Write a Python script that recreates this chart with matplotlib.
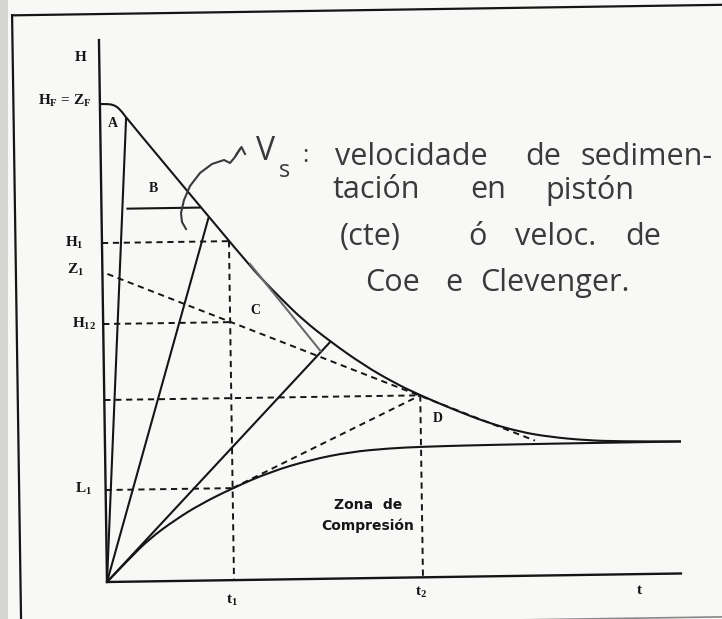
import matplotlib.pyplot as plt
import matplotlib.transforms as mtransforms
from matplotlib.path import Path
from matplotlib.patches import PathPatch

plt.rcParams['mathtext.fontset'] = 'custom'
plt.rcParams['mathtext.rm'] = 'Liberation Serif:bold'
plt.rcParams['mathtext.it'] = 'Liberation Serif:italic:bold'
plt.rcParams['mathtext.bf'] = 'Liberation Serif:bold'

# ---- batch settling test: interface height H against time t ----
# upper curve: clear liquid / suspension interface (A-B linear, C-D compression)
upper_t = [0.00, 0.08, 0.13, 0.17, 0.20, 0.23, 0.26, 1.45, 1.60, 1.80, 2.00,
           2.27, 2.60, 2.90, 3.16, 3.50, 3.82, 4.15, 4.45, 4.82, 5.15, 5.76]
upper_h = [4.78, 4.78, 4.77, 4.75, 4.72, 4.685, 4.64, 3.17, 3.00, 2.79, 2.59,
           2.37, 2.13, 1.95, 1.82, 1.67, 1.54, 1.44, 1.385, 1.345, 1.33, 1.32]
# lower curve: rising sediment level
lower_t = [0.00, 0.233, 0.436, 0.689, 0.941, 1.27, 1.646, 2.048, 2.449,
           2.85, 3.16, 3.60, 4.20, 4.80, 5.76]
lower_h = [0.00, 0.236, 0.43, 0.61, 0.762, 0.92, 1.076, 1.19, 1.264,
           1.295, 1.305, 1.312, 1.316, 1.318, 1.32]

t1, t2 = 1.27, 3.16
H_F, H1, Z1, H12, L1 = 4.78, 3.39, 3.08, 2.58, 0.92
H_D = 1.82

# characteristic lines from the origin to the upper curve
ray_t = [0.26, 1.07, 2.27]
ray_h = [4.64, 3.63, 2.37]

# short solid line in zone B
b_line_t = [0.25, 0.99]
b_line_h = [3.73, 3.73]

# Z1 line through D, down to the final level
z1_t = [0.05, 4.30]
z1_h = [3.08, 1.35]

# pencil extension of the constant-rate stretch
ext_t = [1.43, 2.135]
ext_h = [3.18, 2.31]

# pencil arrow pointing at the constant-rate stretch
pen_t = [0.79, 0.75, 0.74, 0.77, 0.83, 0.93, 1.05, 1.17, 1.23, 1.28, 1.33]
pen_h = [3.53, 3.60, 3.69, 3.82, 3.96, 4.09, 4.18, 4.22, 4.19, 4.25, 4.33]
head_t = [1.29, 1.345, 1.38]
head_h = [4.27, 4.35, 4.28]

# handwritten note, word by word
note_words = ['velocidade', 'de', 'sedimen-',
              'tación', 'en', 'pistón',
              '(cte)', 'ó', 'veloc.', 'de',
              'Coe', 'e', 'Clevenger.']
note_t = [2.28, 4.18, 4.73,
          2.26, 3.63, 4.38,
          2.33, 3.61, 4.08, 5.18,
          2.58, 3.38, 3.73]
note_h = [4.25, 4.25, 4.25,
          3.92, 3.92, 3.92,
          3.45, 3.45, 3.45, 3.45,
          2.99, 2.99, 2.99]

axis_t_end, axis_h_end = 5.74, 5.42
frame_left, frame_top, frame_bottom = -0.865, 5.68, -0.44

fig = plt.figure(figsize=(7.22, 6.19), dpi=100, facecolor='#f8f8f6')
ax = fig.add_axes([0, 0, 1, 1])
ax.set_xlim(-1.07, 6.15)
ax.set_ylim(-0.37, 5.82)
ax.axis('off')

# the printed diagram sits slightly tilted on the page
rot = mtransforms.Affine2D().rotate_deg(0.85) + ax.transData

ink = '#151515'
pencil = '#3a3a3a'
dash = dict(color=ink, lw=1.4, dashes=(3.2, 2.4), transform=rot)
solid = dict(color=ink, lw=1.5, transform=rot, solid_capstyle='butt')


def smooth_curve(xs, ys, **kw):
    # quadratic bezier through the midpoints, read points as controls
    verts = [(xs[0], ys[0])]
    codes = [Path.MOVETO]
    for i in range(1, len(xs) - 1):
        verts += [(xs[i], ys[i]), ((xs[i] + xs[i + 1]) / 2, (ys[i] + ys[i + 1]) / 2)]
        codes += [Path.CURVE3, Path.CURVE3]
    verts.append((xs[-1], ys[-1]))
    codes.append(Path.LINETO)
    ax.add_patch(PathPatch(Path(verts, codes), fill=False, edgecolor=kw.get('color', ink),
                           lw=kw.get('lw', 1.5), transform=kw.get('transform', rot)))


# page shadow on the left edge
ax.axvspan(-1.07, -0.99, color='#d4d4d2', lw=0)

# frame
ax.plot([frame_left, frame_left], [frame_bottom, frame_top], color=ink, lw=1.6, transform=rot)
ax.plot([frame_left, 6.5], [frame_top, frame_top], color=ink, lw=1.6, transform=rot)
ax.plot([frame_left, 6.5], [frame_bottom, frame_bottom], color='#888888', lw=1.2, transform=rot)

# axes
ax.plot([0, 0], [0, axis_h_end], color=ink, lw=1.7, transform=rot)
ax.plot([0, axis_t_end], [0, 0], color=ink, lw=1.7, transform=rot)

# curves
smooth_curve(upper_t, upper_h)
smooth_curve(lower_t, lower_h)
for rt, rh in zip(ray_t, ray_h):
    ax.plot([0, rt], [0, rh], **solid)
ax.plot(b_line_t, b_line_h, **solid)

# construction lines
ax.plot([0, t1], [H1, H1], **dash)
ax.plot([0, t1], [H12, H12], **dash)
ax.plot([0, t1], [L1, L1], **dash)
ax.plot([0, t2], [H_D, H_D], **dash)
ax.plot([t1, t1], [H1, 0], **dash)
ax.plot([t2, t2], [H_D, 0], **dash)
ax.plot(z1_t, z1_h, **dash)
ax.plot([t1, t2], [L1, H_D], **dash)

# labels
lab = dict(color=ink, fontsize=11, family='Liberation Serif', fontweight='bold',
           transform=rot)
ax.text(-0.19, 5.25, 'H', ha='center', va='center', **lab)
ax.text(-0.08, H_F + 0.03, r'H$_\mathrm{F}$ = Z$_\mathrm{F}$', ha='right', va='center', **lab)
ax.text(-0.18, H1, r'H$_\mathrm{1}$', ha='right', va='center', **lab)
ax.text(-0.18, Z1 + 0.04, r'Z$_\mathrm{1}$', ha='right', va='center', **lab)
ax.text(-0.07, H12, r'H$_\mathrm{12}$', ha='right', va='center', **lab)
ax.text(-0.14, L1 + 0.01, r'L$_\mathrm{1}$', ha='right', va='center', **lab)
small = dict(fontsize=10, color=ink, family='Liberation Serif', fontweight='bold',
             ha='center', va='center', transform=rot)
ax.text(0.13, 4.58, 'A', **small)
ax.text(0.52, 3.93, 'B', **small)
ax.text(1.52, 2.69, 'C', **small)
ax.text(3.33, 1.59, 'D', **small)
ax.text(t1 - 0.02, -0.2, r't$_\mathrm{1}$', ha='center', va='center', **lab)
ax.text(t2 - 0.02, -0.15, r't$_\mathrm{2}$', ha='center', va='center', **lab)
ax.text(5.32, -0.16, 't', ha='center', va='center', **lab)
ax.text(2.62, 0.73, 'Zona  de', ha='center', va='center', fontsize=10, color=ink,
        family='Liberation Sans Narrow', fontweight='bold', transform=rot)
ax.text(2.61, 0.52, 'Compresión', ha='center', va='center', fontsize=10, color=ink,
        family='Liberation Sans Narrow', fontweight='bold', transform=rot)

# pencil notes
ax.plot(ext_t, ext_h, color='#6a6a6a', lw=1.5)
ax.plot(pen_t, pen_h, color=pencil, lw=1.5)
ax.plot(head_t, head_h, color=pencil, lw=1.5)

hand = dict(color=pencil, family='Open Sans', fontweight='normal')
ax.text(1.59, 4.31, 'V', fontsize=23, ha='center', va='center', **hand)
ax.text(1.78, 4.11, 's', fontsize=17, ha='center', va='center', **hand)
ax.text(1.98, 4.26, ':', fontsize=17, ha='center', va='center', **hand)
for word, wt, wh in zip(note_words, note_t, note_h):
    ax.text(wt, wh, word, fontsize=22, ha='left', va='center', **hand)

fig.savefig('out.png', dpi=100, facecolor=fig.get_facecolor())
